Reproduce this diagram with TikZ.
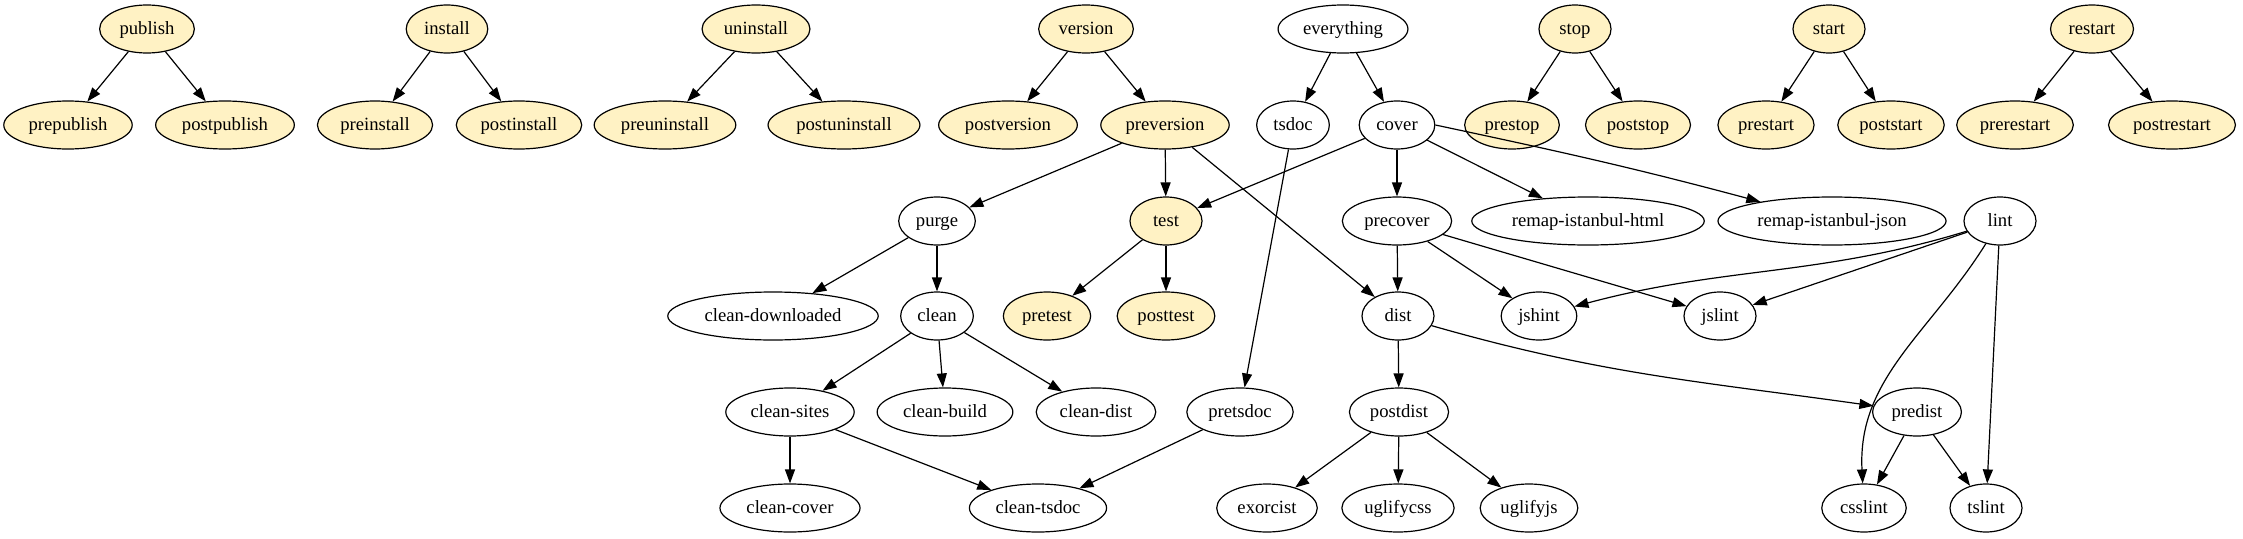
\documentclass[tikz,border=0pt]{standalone}
\usepackage{fontspec}
\setmainfont{Liberation Serif}
\usetikzlibrary{arrows.meta,shapes.geometric}
\definecolor{hookfill}{HTML}{FFF2C4}
\tikzset{
  task/.style={ellipse, draw, line width=0.9pt, minimum width=54pt, minimum height=36pt,
    inner xsep=4.5pt, inner ysep=2pt, text height=10.5pt, text depth=3pt,
    font=\fontsize{14pt}{16pt}\selectfont},
  hook/.style={task, fill=hookfill},
  dep/.style={-{Triangle[length=10.5pt,width=7.5pt]}, line width=0.9pt}
}

\begin{document}
\begin{tikzpicture}[x=0.75pt, y=-0.75pt]
		%%%%% START %%%%%
		\useasboundingbox (0, 0) rectangle (2243, 539);
		
		% lifecycle hooks
		\node[hook] (publish) at (147, 29) {publish};
		\node[hook] (prepublish) at (68, 125) {prepublish};
		\node[hook] (postpublish) at (225, 125) {postpublish};
		
		\node[hook] (install) at (447, 29) {install};
		\node[hook] (preinstall) at (375, 125) {preinstall};
		\node[hook] (postinstall) at (519, 125) {postinstall};
		
		\node[hook] (uninstall) at (756, 29) {uninstall};
		\node[hook] (preuninstall) at (665, 125) {preuninstall};
		\node[hook] (postuninstall) at (844, 125) {postuninstall};
		
		\node[hook] (version) at (1086, 29) {version};
		\node[hook] (postversion) at (1008, 125) {postversion};
		\node[hook] (preversion) at (1165, 125) {preversion};
		
		\node[hook] (stop) at (1575, 29) {stop};
		\node[hook] (prestop) at (1512, 125) {prestop};
		\node[hook] (poststop) at (1638, 125) {poststop};
		
		\node[hook] (start) at (1829, 29) {start};
		\node[hook] (prestart) at (1766, 125) {prestart};
		\node[hook] (poststart) at (1891, 125) {poststart};
		
		\node[hook] (restart) at (2092, 29) {restart};
		\node[hook] (prerestart) at (2015, 125) {prerestart};
		\node[hook] (postrestart) at (2172, 125) {postrestart};
		
		\node[hook] (test) at (1166, 221) {test};
		\node[hook] (pretest) at (1047, 316) {pretest};
		\node[hook] (posttest) at (1166, 316) {posttest};
		
		% plain tasks
		\node[task] (everything) at (1343, 29) {everything};
		\node[task] (tsdoc) at (1293, 125) {tsdoc};
		\node[task] (cover) at (1397, 125) {cover};
		
		\node[task] (purge) at (937, 221) {purge};
		\node[task] (precover) at (1397, 221) {precover};
		\node[task] (remaphtml) at (1588, 221) {remap-istanbul-html};
		\node[task] (remapjson) at (1832, 221) {remap-istanbul-json};
		\node[task] (lint) at (2000, 221) {lint};
		
		\node[task] (cleandownloaded) at (773, 316) {clean-downloaded};
		\node[task] (clean) at (937, 316) {clean};
		\node[task] (dist) at (1398, 316) {dist};
		\node[task] (jshint) at (1539, 316) {jshint};
		\node[task] (jslint) at (1720, 316) {jslint};
		
		\node[task] (cleansites) at (790, 412) {clean-sites};
		\node[task] (cleanbuild) at (945, 412) {clean-build};
		\node[task] (cleandist) at (1096, 412) {clean-dist};
		\node[task] (pretsdoc) at (1240, 412) {pretsdoc};
		\node[task] (postdist) at (1399, 412) {postdist};
		\node[task] (predist) at (1917, 412) {predist};
		
		\node[task] (cleancover) at (790, 508) {clean-cover};
		\node[task] (cleantsdoc) at (1038, 508) {clean-tsdoc};
		\node[task] (exorcist) at (1267, 508) {exorcist};
		\node[task] (uglifycss) at (1398, 508) {uglifycss};
		\node[task] (uglifyjs) at (1529, 508) {uglifyjs};
		\node[task] (csslint) at (1864, 508) {csslint};
		\node[task] (tslint) at (1986, 508) {tslint};
		
		% hooks
		\draw[dep] (publish) -- (prepublish);
		\draw[dep] (publish) -- (postpublish);
		\draw[dep] (install) -- (preinstall);
		\draw[dep] (install) -- (postinstall);
		\draw[dep] (uninstall) -- (preuninstall);
		\draw[dep] (uninstall) -- (postuninstall);
		\draw[dep] (version) -- (postversion);
		\draw[dep] (version) -- (preversion);
		\draw[dep] (stop) -- (prestop);
		\draw[dep] (stop) -- (poststop);
		\draw[dep] (start) -- (prestart);
		\draw[dep] (start) -- (poststart);
		\draw[dep] (restart) -- (prerestart);
		\draw[dep] (restart) -- (postrestart);
		
		% everything
		\draw[dep] (everything) -- (tsdoc);
		\draw[dep] (everything) -- (cover);
		\draw[dep] (tsdoc) -- (pretsdoc);
		\draw[dep] (cover) -- (test);
		\draw[dep] (cover) -- (precover);
		\draw[dep] (cover) -- (remaphtml);
		\draw[dep] (cover.east) to[out=-12, in=165] (remapjson);
		
		% preversion
		\draw[dep] (preversion) -- (purge);
		\draw[dep] (preversion) -- (test);
		\draw[dep] (preversion) -- (dist);
		\draw[dep] (purge) -- (cleandownloaded);
		\draw[dep] (purge) -- (clean);
		\draw[dep] (test) -- (pretest);
		\draw[dep] (test) -- (posttest);
		\draw[dep] (clean) -- (cleansites);
		\draw[dep] (clean) -- (cleanbuild);
		\draw[dep] (clean) -- (cleandist);
		\draw[dep] (cleansites) -- (cleancover);
		\draw[dep] (cleansites) -- (cleantsdoc);
		\draw[dep] (pretsdoc) -- (cleantsdoc);
		
		% dist
		\draw[dep] (precover) -- (dist);
		\draw[dep] (precover) -- (jshint);
		\draw[dep] (precover) -- (jslint);
		\draw[dep] (dist) -- (postdist);
		\draw[dep] (dist) to[out=-16, in=172] (predist);
		\draw[dep] (postdist) -- (exorcist);
		\draw[dep] (postdist) -- (uglifycss);
		\draw[dep] (postdist) -- (uglifyjs);
		\draw[dep] (predist) -- (csslint);
		\draw[dep] (predist) -- (tslint);
		
		% lint
		\draw[dep] (lint) to[out=197, in=15] (jshint);
		\draw[dep] (lint) -- (jslint);
		\draw[dep] (lint) to[out=238, in=93] (csslint);
		\draw[dep] (lint) -- (tslint);
		
		%%%%% END %%%%%
	\end{tikzpicture}
\end{document}
